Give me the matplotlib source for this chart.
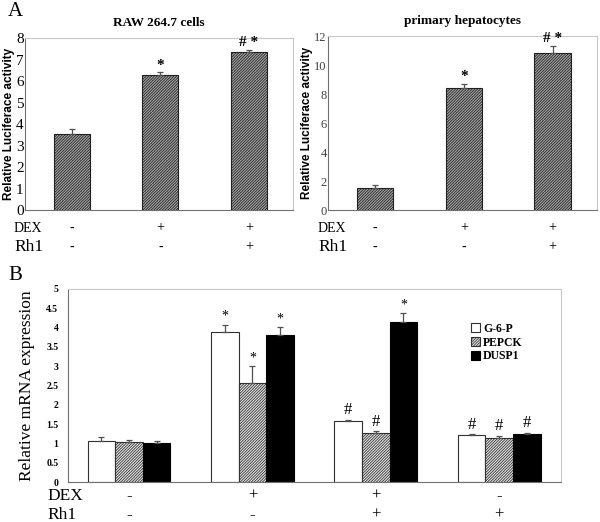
import numpy as np
import matplotlib
matplotlib.use('Agg')
import matplotlib.pyplot as plt

plt.rcParams['hatch.linewidth'] = 0.6

# ---- Panel A data ----
raw_vals = [3.52, 6.28, 7.34]
raw_err = [0.26, 0.12, 0.09]
raw_marks = ['', '*', '# *']
hep_vals = [1.55, 8.44, 10.83]
hep_err = [0.14, 0.28, 0.50]
hep_marks = ['', '*', '# *']
dex_a = ['-', '+', '+']
rh1_a = ['-', '-', '+']

# ---- Panel B data ----
genes = ['G-6-P', 'PEPCK', 'DUSP1']
g6p_vals = [1.07, 3.89, 1.59, 1.22]
g6p_err = [0.09, 0.19, 0.02, 0.02]
pepck_vals = [1.04, 2.56, 1.27, 1.14]
pepck_err = [0.05, 0.45, 0.05, 0.06]
dusp1_vals = [1.00, 3.81, 4.15, 1.24]
dusp1_err = [0.07, 0.21, 0.22, 0.04]
g6p_marks = ['', '*', '#', '#']
pepck_marks = ['', '*', '#', '#']
dusp1_marks = ['', '*', '*', '#']
dex_b = ['-', '+', '+', '-']
rh1_b = ['-', '-', '+', '+']

SERIF = 'Liberation Serif'
SANS = 'Liberation Sans'
W, H = 600, 522
HATCH = '////////////'


def px_axes(fig, left, top, right, bottom):
    return fig.add_axes([left / W, 1 - bottom / H, (right - left) / W, (bottom - top) / H])


def style_spines(ax):
    ax.spines['left'].set_color('#707070')
    ax.spines['bottom'].set_color('#707070')
    ax.spines['top'].set_color('#c8c8c8')
    ax.spines['right'].set_color('#c8c8c8')
    for s in ax.spines.values():
        s.set_linewidth(0.8)


def row_label(ax, i, txt, dy_px, size):
    # text below the axes at category i, dy_px pixels below the x axis
    ax.annotate(txt, (i, 0), xycoords=('data', 'axes fraction'),
                xytext=(0, -dy_px * 0.72), textcoords='offset points',
                family=SERIF, fontsize=size, ha='center', va='center')


def panel_a(ax, vals, err, marks, ymax, title, tick_size, tick_color):
    x = np.arange(len(vals))
    ax.bar(x, vals, 0.41, color='#a8a8a8', edgecolor='#202020', hatch=HATCH,
           linewidth=0.8, zorder=2)
    ax.errorbar(x, vals, yerr=[np.zeros(len(err)), err], fmt='none',
                ecolor='#505050', elinewidth=0.9, capsize=2, capthick=0.9, zorder=3)
    for xi, v, e, m in zip(x, vals, err, marks):
        if m:
            ax.text(xi, v + e + ymax * 0.005, m, ha='center', va='bottom',
                    fontsize=11, fontweight='bold', family=SERIF)
    ax.set_xlim(-0.53, 2.5)
    ax.set_ylim(0, ymax)
    ax.set_xticks(x)
    ax.set_xticklabels([''] * len(x))
    ax.tick_params(axis='x', length=0)
    ax.tick_params(axis='y', length=0, pad=1, labelsize=tick_size, labelcolor=tick_color)
    for lab in ax.get_yticklabels():
        lab.set_family(SERIF)
    ax.set_ylabel('Relative Luciferace activity', family=SANS, fontweight='bold',
                  fontsize=8.5, labelpad=1)
    ax.set_title(title, family=SERIF, fontweight='bold', fontsize=9.5, pad=9)
    style_spines(ax)
    for i in range(len(x)):
        row_label(ax, i, dex_a[i], 18, 10)
        row_label(ax, i, rh1_a[i], 37, 10)


fig = plt.figure(figsize=(W / 100, H / 100), dpi=100)

ax1 = px_axes(fig, 25, 38, 293, 210)
ax1.set_yticks(range(0, 9))
panel_a(ax1, raw_vals, raw_err, raw_marks, 8, 'RAW 264.7 cells', 11, 'black')

ax2 = px_axes(fig, 328, 36, 597, 210)
ax2.set_yticks(range(0, 13, 2))
panel_a(ax2, hep_vals, hep_err, hep_marks, 12, 'primary hepatocytes', 9, '#404040')

for lab_x in (14, 318):
    fig.text(lab_x / W, 1 - 228 / H, 'DEX', family=SERIF, fontsize=10, va='center')
    fig.text(lab_x / W, 1 - 247 / H, 'Rh1', family=SERIF, fontsize=12.5, va='center')

# ---- Panel B ----
axb = px_axes(fig, 68, 289, 561, 482)
xb = np.arange(len(g6p_vals))
bw = 0.224
series = [
    (g6p_vals, g6p_err, g6p_marks, dict(color='white', edgecolor='#303030')),
    (pepck_vals, pepck_err, pepck_marks, dict(color='#e8e8e8', edgecolor='#303030', hatch=HATCH)),
    (dusp1_vals, dusp1_err, dusp1_marks, dict(color='black', edgecolor='black')),
]
for k, (vals, err, marks, kw) in enumerate(series):
    pos = xb + (k - 1) * bw
    axb.bar(pos, vals, bw, linewidth=0.8, label=genes[k], zorder=2, **kw)
    axb.errorbar(pos, vals, yerr=[np.zeros(len(err)), err], fmt='none',
                 ecolor='#505050', elinewidth=0.9, capsize=2, capthick=0.9, zorder=3)
    for p, v, e, m in zip(pos, vals, err, marks):
        if m:
            axb.text(p, v + e + 0.04, m, ha='center', va='bottom',
                     fontsize=10 if m == '*' else 12, family=SERIF)

axb.set_xlim(-0.494, 3.5)
axb.set_ylim(0, 5)
axb.set_yticks(np.arange(0, 5.01, 0.5))
axb.set_yticklabels(['0', '0.5', '1', '1.5', '2', '2.5', '3', '3.5', '4', '4.5', '5'])
axb.set_xticks(xb)
axb.set_xticklabels([''] * len(xb))
axb.tick_params(axis='x', length=0)
axb.tick_params(axis='y', length=0, pad=7, labelsize=7)
for lab in axb.get_yticklabels():
    lab.set_family(SERIF)
    lab.set_fontweight('bold')
axb.set_ylabel('Relative mRNA expression', family=SERIF, fontsize=12.5, labelpad=8)
style_spines(axb)
axb.legend(loc='upper left', bbox_to_anchor=(0.805, 0.855), frameon=False, borderpad=0,
           prop={'family': SERIF, 'weight': 'bold', 'size': 8.5},
           handlelength=0.8, handleheight=0.8, handletextpad=0.25, labelspacing=0.15)

fig.text(47 / W, 1 - 496 / H, 'DEX', family=SERIF, fontsize=12.5, va='center')
fig.text(47 / W, 1 - 515 / H, 'Rh1', family=SERIF, fontsize=12.5, va='center')
for i in range(len(xb)):
    row_label(axb, i, dex_b[i], 14, 12)
    row_label(axb, i, rh1_b[i], 33, 12)

fig.text(8 / W, 1 - 11 / H, 'A', family=SERIF, fontsize=15, va='center')
fig.text(8 / W, 1 - 276 / H, 'B', family=SERIF, fontsize=15, va='center')

fig.savefig('out.png', dpi=100)
